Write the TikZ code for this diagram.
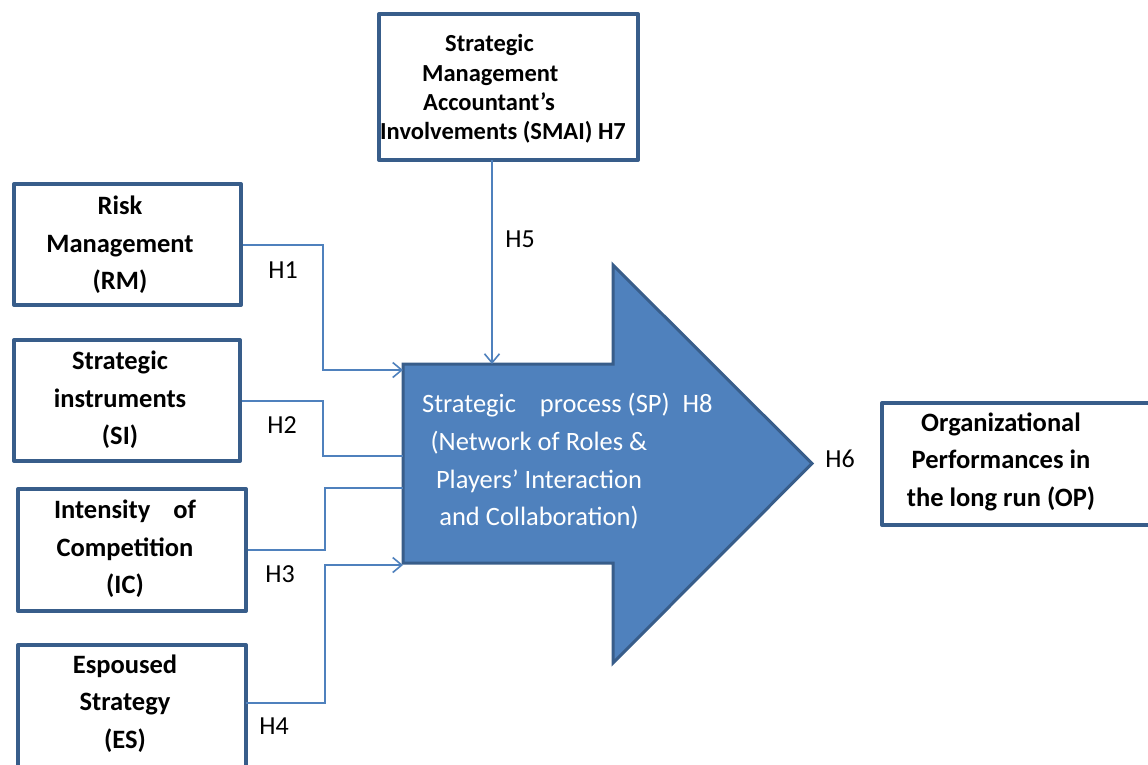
\documentclass[tikz,border=0pt]{standalone}
\usepackage{fontspec}
\setmainfont{Carlito}
\usetikzlibrary{arrows.meta}
\definecolor{boxline}{RGB}{56,93,138}
\definecolor{connline}{RGB}{79,129,189}
\definecolor{arrowfill}{RGB}{79,129,189}
\tikzset{
  boxnode/.style={draw=boxline, line width=4pt, fill=white, inner sep=0pt, line join=round},
  btxt/.style={font=\bfseries\fontsize{26.5}{37.5}\selectfont, align=center, inner sep=0pt},
  stxt/.style={font=\bfseries\fontsize{24.5}{29.3}\selectfont, align=left, inner sep=0pt},
  htxt/.style={font=\fontsize{26}{30}\selectfont, inner sep=0pt},
  wtxt/.style={font=\fontsize{26.5}{37.5}\selectfont, text=white, inner sep=0pt},
  conn/.style={draw=connline, line width=2pt},
  conntip/.style={conn, -{Straight Barb[length=9pt,width=15pt,line width=1.6pt]}},
}
\begin{document}
\begin{tikzpicture}[x=1pt,y=-1pt]
\useasboundingbox (0,0) rectangle (1148,764);
\clip (0,0) rectangle (1148,764);
\fill[white] (0,0) rectangle (1148,764);

% big arrow
\node[inner sep=0pt, minimum width=210pt, minimum height=199pt] (sp) at (508,463.5) {};
\draw[boxline, fill=arrowfill, line width=3pt, line join=miter]
  (403,364) -- (613,364) -- (613,265) -- (812,463.5) -- (613,663) -- (613,563) -- (403,563) -- cycle;
\node[wtxt, anchor=west] (sptitle) at (422,405) {Strategic\hspace{18pt} process (SP)\hspace{7pt} H8};
\node[wtxt, align=center] (spbody) at (539,480.5) {(Network of Roles \&\\Players’ Interaction\\and Collaboration)};

% boxes
\node[boxnode, minimum width=259pt, minimum height=146pt] (smai) at (508.5,87) {};
\node[stxt, anchor=west] (smait) at (380,89) {\hspace*{65pt}Strategic\\\hspace*{42pt}Management\\\hspace*{43pt}Accountant’s\\Involvements (SMAI) H7};

\node[boxnode, minimum width=227pt, minimum height=121pt] (rm) at (127.5,244.5) {};
\node[btxt] (rmt) at (120,245) {Risk\\Management\\(RM)};

\node[boxnode, minimum width=226pt, minimum height=121pt] (si) at (127,400.5) {};
\node[btxt] (sit) at (120,400) {Strategic\\instruments\\(SI)};

\node[boxnode, minimum width=228pt, minimum height=122pt] (ic) at (132,550) {};
\node[btxt] (ict) at (125,549) {Intensity\hspace{17pt} of\\Competition\\(IC)};

\node[boxnode, minimum width=228pt, minimum height=135pt] (es) at (132,712.5) {};
\node[btxt] (est) at (125,703.5) {Espoused\\Strategy\\(ES)};

\node[boxnode, minimum width=280pt, minimum height=122pt] (op) at (1022,464) {};
\node[btxt] (opt) at (1001,461.5) {Organizational\\Performances in\\the long run (OP)};

% connector end points on the arrow
\coordinate (in1) at (403,370);
\coordinate (in2) at (403,456);
\coordinate (in3) at (403,488);
\coordinate (in4) at (403,565);
\coordinate (in5) at (492,364);
\coordinate (out4) at (246,703);
\coordinate (out5) at (492,160);

% connectors
\draw[conntip] (rm.east) -| (323,370) -- (in1);
\draw[conn] (si.east) -| (323,456) -- (in2);
\draw[conn] (ic.east) -| (325,488) -- (in3);
\draw[conntip] (out4) -| (325,565) -- (in4);
\draw[conntip] (out5) -- (in5);

% labels
\node[htxt] (h1) at (283,270) {H1};
\node[htxt] (h2) at (282,425) {H2};
\node[htxt] (h3) at (280,574) {H3};
\node[htxt] (h4) at (274,726) {H4};
\node[htxt] (h5) at (520,239) {H5};
\node[htxt] (h6) at (840,459) {H6};
\end{tikzpicture}
\end{document}
